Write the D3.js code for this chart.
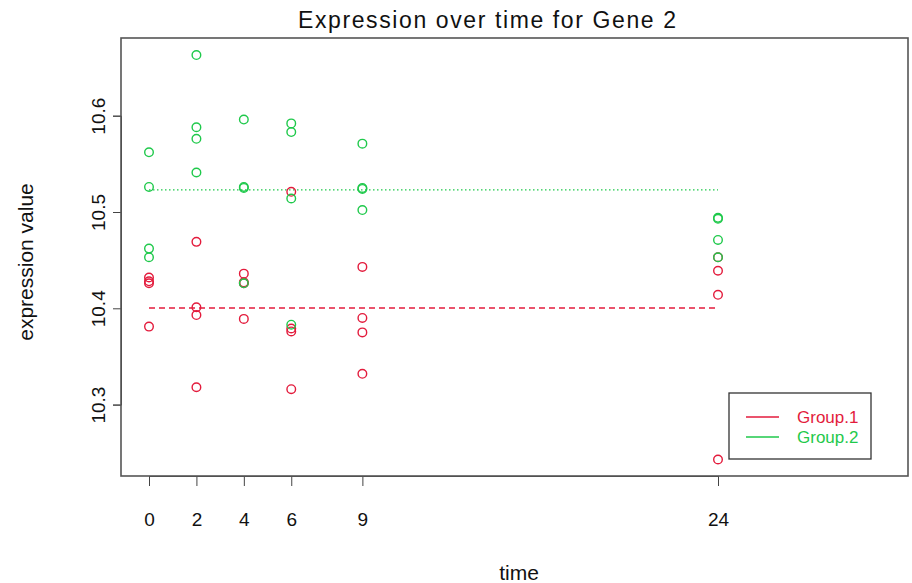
<!DOCTYPE html>
<html>
<head>
<meta charset="utf-8">
<script src="https://cdn.jsdelivr.net/npm/d3@7"></script>
<style>
  html, body { margin: 0; padding: 0; background: #fff; }
  svg { display: block; font-family: "Liberation Sans", Arial, Helvetica, sans-serif; }
</style>
</head>
<body>
<svg id="chart" width="912" height="583"></svg>
<script>
// Sampling times (hours)
const times = [0, 2, 4, 6, 9, 24];
// Replicate expression values per time, one row per time point
const group1 = [
  [10.432, 10.428, 10.426, 10.381],
  [10.469, 10.401, 10.393, 10.318],
  [10.436, 10.427, 10.426, 10.389],
  [10.521, 10.379, 10.376, 10.316],
  [10.443, 10.390, 10.375, 10.332],
  [10.453, 10.439, 10.414, 10.243]
];
const group2 = [
  [10.562, 10.526, 10.462, 10.453],
  [10.663, 10.588, 10.576, 10.541],
  [10.596, 10.526, 10.525, 10.426],
  [10.592, 10.583, 10.514, 10.383],
  [10.571, 10.525, 10.524, 10.502],
  [10.494, 10.493, 10.471, 10.453]
];
const yTicks = [10.3, 10.4, 10.5, 10.6];
const groupNames = ["Group.1", "Group.2"];
const groupColors = ["#e31b3c", "#1fc94b"];

const svg = d3.select("#chart");
svg.append("rect").attr("width", 912).attr("height", 583).attr("fill", "#fff");

const box = { left: 121, right: 908, top: 38, bottom: 476 };
const x = d3.scaleLinear().domain([0, 24]).range([149, 718]);
const y = d3.scaleLinear().domain([10.3, 10.6]).range([404.6, 115.7]);

// Title and axis titles
svg.append("text").attr("x", 487).attr("y", 28).attr("text-anchor", "middle")
  .attr("font-size", 23).attr("fill", "#111")
  .attr("textLength", 378).attr("lengthAdjust", "spacing")
  .text("Expression over time for Gene 2");
svg.append("text").attr("x", 519).attr("y", 580).attr("text-anchor", "middle")
  .attr("font-size", 21).attr("fill", "#111").text("time");
svg.append("text").attr("transform", "translate(33,262) rotate(-90)").attr("text-anchor", "middle")
  .attr("font-size", 21).attr("fill", "#111").text("expression value");

// Axes
const xAxis = d3.axisBottom(x).tickValues(times).tickSize(10).tickPadding(27).tickFormat(d3.format("d"));
const gx = svg.append("g").attr("transform", `translate(0,${box.bottom})`).call(xAxis);
gx.select(".domain").attr("d", `M${x(0)},0.5H${x(24)}`).attr("stroke", "#444");
gx.selectAll(".tick line").attr("stroke", "#444");
gx.selectAll(".tick text").attr("font-size", 19).attr("fill", "#111").attr("font-family", "Liberation Sans, Arial, sans-serif");

const yAxis = d3.axisLeft(y).tickValues(yTicks).tickSize(8).tickFormat(d3.format(".1f"));
const gy = svg.append("g").attr("transform", `translate(${box.left},0)`).call(yAxis);
gy.select(".domain").attr("stroke", "#444");
gy.selectAll(".tick line").attr("stroke", "#444");
gy.selectAll(".tick text")
  .attr("font-size", 19).attr("fill", "#111").attr("font-family", "Liberation Sans, Arial, sans-serif")
  .attr("text-anchor", "middle").attr("x", 0).attr("dy", 0)
  .attr("transform", "translate(-16,0) rotate(-90)");

// Plot frame
svg.append("rect").attr("x", box.left).attr("y", box.top)
  .attr("width", box.right - box.left).attr("height", box.bottom - box.top)
  .attr("fill", "none").attr("stroke", "#555").attr("stroke-width", 1.6);

// Group mean reference lines
const groups = [group1, group2];
const dashes = ["6,4", "1.5,2.5"];
groups.forEach((g, i) => {
  const m = d3.mean(g.flat());
  svg.append("line").attr("x1", x(0)).attr("x2", x(24)).attr("y1", y(m)).attr("y2", y(m))
    .attr("stroke", groupColors[i]).attr("stroke-width", 1.3).attr("stroke-dasharray", dashes[i]);
});

// Replicate points
groups.forEach((g, i) => {
  const pts = [];
  g.forEach((vals, ti) => vals.forEach(v => pts.push({ t: times[ti], v })));
  svg.append("g").selectAll("circle").data(pts).join("circle")
    .attr("cx", d => x(d.t)).attr("cy", d => y(d.v)).attr("r", 4.3)
    .attr("fill", "none").attr("stroke", groupColors[i]).attr("stroke-width", 1.4);
});

// Legend
const lg = svg.append("g");
lg.append("rect").attr("x", 729).attr("y", 393).attr("width", 142).attr("height", 66)
  .attr("fill", "#fff").attr("stroke", "#333").attr("stroke-width", 1.3);
groupNames.forEach((name, i) => {
  const ly = 417 + i * 20;
  lg.append("line").attr("x1", 746).attr("x2", 779).attr("y1", ly).attr("y2", ly)
    .attr("stroke", groupColors[i]).attr("stroke-width", 1.5);
  lg.append("text").attr("x", 797).attr("y", ly + 6).attr("font-size", 17)
    .attr("fill", groupColors[i]).text(name);
});
</script>
</body>
</html>
